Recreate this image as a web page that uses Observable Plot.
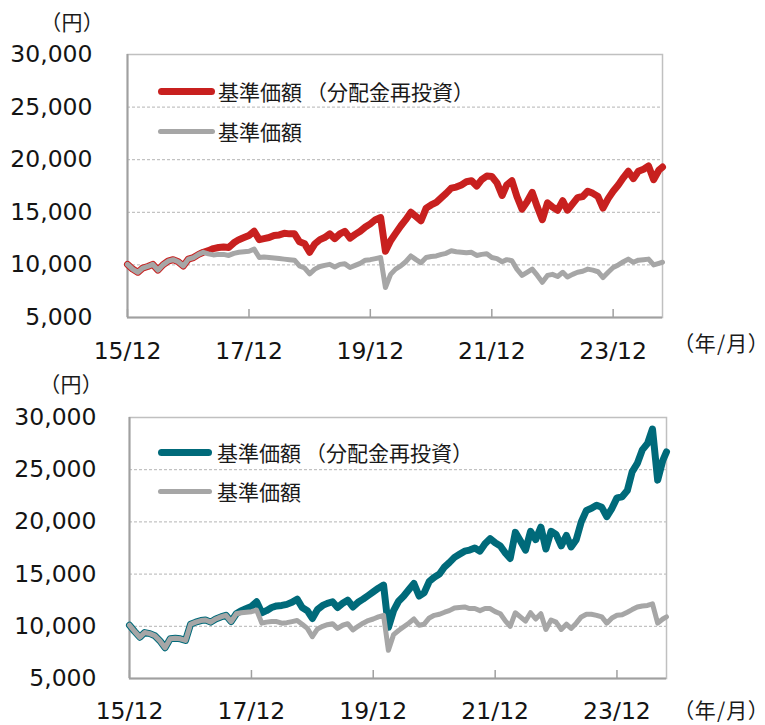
<!DOCTYPE html>
<html><head><meta charset="utf-8">
<script src="https://cdn.jsdelivr.net/npm/d3@7"></script>
<script src="https://cdn.jsdelivr.net/npm/@observablehq/plot@0.6"></script>
<style>
body{margin:0;background:#fff;}
#wrap{position:relative;width:765px;height:725px;overflow:hidden;color:#1a1a1a;}
.panel{position:absolute;left:0;width:765px;}
.panel svg{position:absolute;left:0;top:0;overflow:visible;}
.unit{position:absolute;font-family:"Noto Sans CJK JP",sans-serif;font-size:21px;line-height:21px;font-feature-settings:"palt";white-space:nowrap;}
.leg{position:absolute;font-family:"Noto Sans CJK JP",sans-serif;font-size:21px;line-height:21px;white-space:nowrap;display:flex;align-items:center;}
.sw{display:inline-block;border-radius:4px;}
.lp{margin-left:4px;}
</style></head>
<body><div id="wrap"></div>
<script>
// ---- data ----
const months = [
 "2015-12",
 "2016-01","2016-02","2016-03","2016-04","2016-05","2016-06","2016-07","2016-08","2016-09","2016-10","2016-11","2016-12",
 "2017-01","2017-02","2017-03","2017-04","2017-05","2017-06","2017-07","2017-08","2017-09","2017-10","2017-11","2017-12",
 "2018-01","2018-02","2018-03","2018-04","2018-05","2018-06","2018-07","2018-08","2018-09","2018-10","2018-11","2018-12",
 "2019-01","2019-02","2019-03","2019-04","2019-05","2019-06","2019-07","2019-08","2019-09","2019-10","2019-11","2019-12",
 "2020-01","2020-02","2020-03","2020-04","2020-05","2020-06","2020-07","2020-08","2020-09","2020-10","2020-11","2020-12",
 "2021-01","2021-02","2021-03","2021-04","2021-05","2021-06","2021-07","2021-08","2021-09","2021-10","2021-11","2021-12",
 "2022-01","2022-02","2022-03","2022-04","2022-05","2022-06","2022-07","2022-08","2022-09","2022-10","2022-11","2022-12",
 "2023-01","2023-02","2023-03","2023-04","2023-05","2023-06","2023-07","2023-08","2023-09","2023-10","2023-11","2023-12",
 "2024-01","2024-02","2024-03","2024-04","2024-05","2024-06","2024-07","2024-08","2024-09","2024-09-23"
];
// chart 1 (red)
const topReinvested = [
 10050,
 9600,9300,9700,9850,10050,9500,10000,10350,10500,10300,9900,10550,
 10700,11000,11200,11350,11550,11650,11700,11650,12100,12400,12600,12800,
 13200,12400,12500,12600,12800,12850,13000,12950,12950,12200,12000,11200,
 12000,12400,12600,12950,12500,12950,13200,12550,12900,13200,13600,13900,
 14300,14500,11300,12300,13000,13700,14300,15000,14600,14200,15400,15700,
 15950,16400,16800,17300,17400,17600,17900,18000,17500,18100,18450,18400,
 17800,16600,17600,18000,16500,15300,16000,16900,15500,14300,15900,15500,
 15200,16100,15200,15800,16400,16500,17000,16800,16500,15400,16300,17000,
 17600,18300,18900,18200,18900,19100,19400,18100,19000,19300
];
const topNav = [
 10050,
 9600,9300,9700,9850,10050,9500,10000,10350,10500,10300,9900,10550,
 10700,11000,11200,11050,10950,11000,11000,10900,11100,11200,11250,11300,
 11500,10700,10750,10700,10650,10600,10550,10500,10450,9900,9700,9150,
 9600,9850,9950,10050,9800,10050,10100,9750,9950,10150,10450,10500,
 10600,10700,7850,9100,9600,9900,10300,10850,10500,10200,10700,10800,
 10850,11000,11100,11350,11250,11200,11150,11200,10900,11000,11050,10700,
 10600,10300,10500,10400,9600,9000,9300,9600,9000,8350,9000,9100,
 8900,9300,8850,9100,9300,9400,9600,9500,9350,8800,9300,9750,
 10000,10300,10550,10250,10450,10500,10550,10000,10150,10250
];
// chart 2 (teal)
const botReinvested = [
 10100,
 9500,8950,9400,9300,9100,8600,7950,8800,8850,8800,8650,10200,
 10400,10550,10600,10400,10700,10900,11050,10450,11200,11500,11700,11900,
 12350,11300,11500,11800,11950,12000,12100,12300,12600,11800,11500,10750,
 11600,12000,12200,12350,11800,12200,12500,11850,12300,12600,12950,13300,
 13650,13950,9900,11500,12400,12900,13500,14100,12900,13200,14300,14700,
 15000,15700,16100,16600,16900,17200,17300,17500,17200,17900,18400,18000,
 17700,17000,16500,19000,18200,17300,19100,18300,19500,17400,19100,18800,
 17700,18700,17600,18300,20000,21100,21300,21600,21400,20500,21300,22300,
 22400,23000,24800,25600,26900,27500,28900,24000,25900,26700
];
const botNav = [
 10100,
 9500,8950,9400,9300,9100,8600,7950,8800,8850,8800,8650,10200,
 10400,10550,10600,10400,10700,10900,11050,10450,11200,11300,11350,11400,
 11550,10300,10400,10450,10450,10300,10350,10450,10550,10200,9800,9000,
 9750,10000,10150,10250,9800,10100,10250,9650,10000,10300,10550,10700,
 10900,11050,7700,9200,9600,9950,10300,10700,10100,10200,10800,11050,
 11150,11350,11500,11750,11800,11850,11700,11700,11500,11700,11700,11400,
 11200,10500,10000,11300,10900,10500,11300,10700,11200,9700,10600,10400,
 9700,10200,9800,10300,10900,11150,11150,11050,10900,10300,10800,11050,
 11100,11350,11600,11850,11950,12000,12150,10300,10700,10900
];
const xTicks = ["2015-12","2017-12","2019-12","2021-12","2023-12"];
const xDomain = ["2015-12","2024-09-23"];
const yTicks = [5000,10000,15000,20000,25000,30000];
const yGrid = [10000,15000,20000,25000];
const legendName = "基準価額";
const legendNote = "分配金再投資";
const unitY = "（円）";
const unitX = "（年/月）";

// ---- drawing ----
const parse = s => new Date(s.length === 7 ? s + "-01T00:00:00Z" : s + "T00:00:00Z");
const wrap = document.getElementById("wrap");

function chart({top, H, color, reinv, nav, m, leg, units}) {
  const data = months.map((d, i) => ({date: parse(d), r: reinv[i], n: nav[i]}));
  const ticks = xTicks.map(parse);
  const plotH = H - m.top - m.bottom;
  const svg = Plot.plot({
    width: 765, height: H,
    marginTop: m.top, marginBottom: m.bottom, marginLeft: m.left, marginRight: m.right,
    style: {fontFamily: "'DejaVu Sans', Verdana, sans-serif", fontSize: "23.5px", color: "#141414", background: "transparent", overflow: "visible"},
    x: {type: "utc", domain: xDomain.map(parse)},
    y: {domain: [5000, 30000]},
    marks: [
      Plot.gridY(yGrid, {stroke: "#b4b4b4", strokeOpacity: 1, strokeDasharray: "3,2", strokeWidth: 1}),
      Plot.frame({stroke: "#c0c0c0", strokeWidth: 1.5}),
      Plot.ruleY([5000], {stroke: "#a0a0a0", strokeWidth: 2}),
      Plot.ruleX([ticks[0]], {stroke: "#a0a0a0", strokeWidth: 2}),
      Plot.ruleX(ticks, {x: d => d, stroke: "#a0a0a0", strokeWidth: 1.5, insetTop: plotH - 8}),
      Plot.axisY(yTicks, {tickSize: 0, tickPadding: m.ypad, tickFormat: d3.format(","), label: null, fontSize: 23.5}),
      Plot.axisX(ticks, {tickSize: 0, tickPadding: m.xpad, tickFormat: d3.utcFormat("%y/%m"), label: null, fontSize: 23.5}),
      Plot.line(data, {x: "date", y: "r", stroke: color, strokeWidth: 7, strokeLinejoin: "round", strokeLinecap: "round"}),
      Plot.line(data, {x: "date", y: "n", stroke: "#a6a6a6", strokeWidth: 5, strokeLinejoin: "round", strokeLinecap: "round"})
    ]
  });
  const panel = document.createElement("div");
  panel.className = "panel";
  panel.style.top = top + "px";
  panel.style.height = H + "px";
  panel.appendChild(svg);
  const add = (cls, html, x, y, extra) => {
    const el = document.createElement("div");
    el.className = cls; el.innerHTML = html;
    el.style.left = x + "px"; el.style.top = y + "px";
    if (extra) Object.assign(el.style, extra);
    panel.appendChild(el);
  };
  const sw = (h, c) => `<span class="sw" style="width:${leg.w}px;margin-right:${leg.gap}px;height:${h}px;background:${c}"></span>`;
  add("leg", sw(7, color) + legendName + `<span class="lp">（</span>` + legendNote + `<span>）</span>`, leg.x, leg.y1 - 11);
  add("leg", sw(5, "#a6a6a6") + legendName, leg.x, leg.y2 - 11);
  add("unit", unitY, units.yx, units.yy - 11, {letterSpacing: "1px"});
  add("unit", unitX, units.xx, units.xy - 11, {letterSpacing: "1.2px"});
  wrap.appendChild(panel);
}

chart({top: 0, H: 372, color: "#c8201f", reinv: topReinvested, nav: topNav,
  m: {top: 54, bottom: 55, left: 127, right: 103, ypad: 35, xpad: 25},
  leg: {x: 158, w: 57, gap: 3, y1: 92, y2: 132}, units: {yx: 50, yy: 22, xx: 683, xy: 343}});
chart({top: 362, H: 363, color: "#006a7a", reinv: botReinvested, nav: botNav,
  m: {top: 55, bottom: 47, left: 129, right: 99, ypad: 33, xpad: 24},
  leg: {x: 158, w: 54, gap: 5, y1: 91, y2: 130}, units: {yx: 49, yy: 22, xx: 683, xy: 348}});
</script></body></html>
